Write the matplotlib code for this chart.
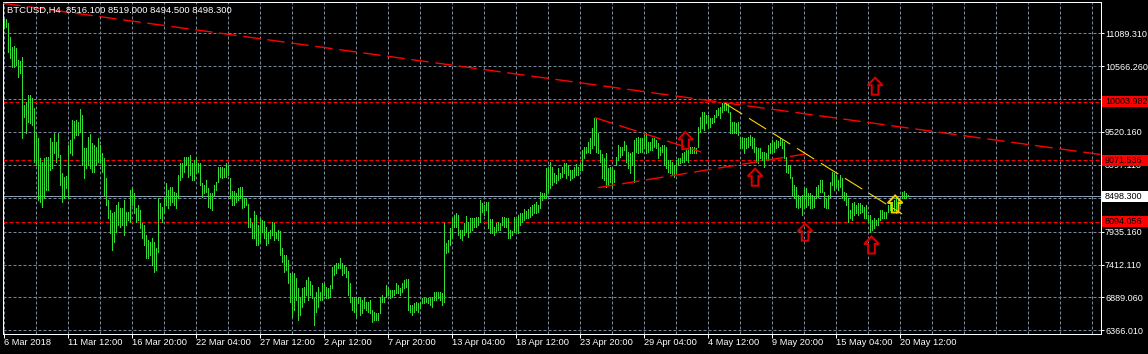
import matplotlib
matplotlib.use("Agg")
import matplotlib.pyplot as plt
import matplotlib.transforms as mtransforms
from matplotlib.patches import Polygon, Rectangle
import numpy as np

plt.rcParams['lines.scale_dashes'] = False
plt.rcParams['font.family'] = ['Liberation Sans', 'DejaVu Sans']

# ---------------- data (BTCUSD H4, bar highs / lows) ----------------
high_mar_a = [11317, 11317, 11248, 11036, 10877, 10893, 10862, 10665, 10650, 10718,
              9950, 10003, 10109, 10109, 10056, 9897, 9499, 9420, 9102, 9049,
              9102, 9128, 9128, 9420, 9367, 9499, 9367, 9499, 9155, 8863,
              8810, 8826, 9314, 9393, 9711, 9695, 9711, 9685, 9881, 9791,
              9261, 9271, 9446, 9483, 9340, 9314, 9287, 9420, 9314, 9181,
              9102, 8783, 8439, 8280, 8227, 8253, 8359, 8413, 8306, 8306,
              8439, 8253, 8253, 8598, 8625, 8545, 8306, 8359, 8280, 8068,
              8041, 7882, 7803, 7776, 7829, 7776, 7670, 8466, 8386, 8333,
              8466, 8704, 8598, 8651, 8651, 8572, 8545, 8837, 9022, 9022,
              9128, 9128, 9128, 9155, 9022, 9075, 9102, 9022, 9022, 8704,
              8677, 8757, 8625, 8545, 8545, 8677, 8731, 8969, 8969, 8969,
              8943, 9022, 8996, 8784]
low_mar_a = [11169, 11195, 10798, 10692, 10559, 10559, 10586, 10400, 10453, 9420,
             9764, 9499, 9685, 9658, 9632, 9049, 8996, 8439, 8413, 8333,
             8466, 8598, 8598, 8916, 8943, 9181, 9049, 9128, 8677, 8413,
             8466, 8625, 8466, 9181, 9155, 9420, 9473, 9473, 9526, 8996,
             8783, 8943, 8996, 8943, 8890, 8890, 8996, 9049, 9049, 8890,
             8518, 8359, 8147, 7909, 7644, 7776, 7935, 8041, 8015, 8041,
             7882, 8041, 8121, 8094, 8359, 8227, 8094, 8121, 7988, 7829,
             7723, 7511, 7511, 7564, 7405, 7299, 7326, 7617, 8147, 8094,
             8227, 8359, 8306, 8359, 8413, 8359, 8306, 8466, 8757, 8810,
             8890, 8996, 8810, 8837, 8757, 8757, 8863, 8890, 8677, 8492,
             8545, 8572, 8333, 8306, 8280, 8518, 8598, 8731, 8810, 8784,
             8810, 8810, 8837, 8466]

high_mar_b = [8582, 8582, 8545, 8635, 8651, 8651, 8476, 8465, 8370, 8147,
              8068, 8264, 8200, 8041, 8147, 8121, 8105, 8015, 7935, 7962,
              8094, 8068, 7935, 7962, 7946, 7670, 7564, 7564, 7485, 7273,
              7273, 7273, 7193, 7034, 6902, 7034, 7061, 7167, 7220, 7151,
              7087, 6875, 6981, 7061, 6981, 7114, 7114, 7061, 7034, 7087,
              7379, 7405, 7432, 7442, 7511, 7432, 7405, 7379, 7310, 7114,
              6902, 6875, 6902, 6902, 6875, 6849, 6902, 6822, 6822, 6849,
              6690, 6663, 6637, 6637, 6902, 6928, 6902, 7087, 7034, 7008,
              7008, 7008, 7114, 7087, 7034, 7114, 7167, 7183, 7183, 6769,
              6769, 6796, 6822, 6796, 6822, 6875, 6886, 6875, 6886, 6875,
              6902, 6970, 6981, 6970, 6981, 6955, 8068, 7750, 7803, 7988,
              8147, 8200, 8227]
low_mar_b = [8359, 8359, 8412, 8439, 8465, 8306, 8333, 8359, 8015, 8015,
             7829, 7829, 7723, 7723, 7776, 7935, 7829, 7723, 7750, 7829,
             7882, 7803, 7829, 7803, 7564, 7458, 7299, 7326, 7114, 6822,
             6583, 6689, 6849, 6531, 6610, 6743, 6822, 6928, 6849, 6928,
             6875, 6451, 6663, 6743, 6849, 6849, 6928, 6875, 6875, 6902,
             7034, 7246, 7273, 7352, 7352, 7246, 7273, 7220, 6928, 6822,
             6689, 6663, 6583, 6796, 6610, 6637, 6716, 6689, 6663, 6637,
             6504, 6531, 6531, 6531, 6637, 6822, 6822, 6902, 6928, 6875,
             6902, 6928, 6955, 6955, 6928, 6981, 7034, 7061, 6690, 6663,
             6610, 6663, 6690, 6663, 6716, 6796, 6796, 6822, 6796, 6769,
             6743, 6849, 6849, 6875, 6849, 6769, 6822, 7591, 7617, 7723,
             7829, 8015, 8015]

high_apr = [8200, 7962, 7962, 8068, 8184, 8094, 8147, 8147, 8147, 8174,
            8174, 8439, 8386, 8359, 8412, 8412, 8137, 8137, 8015, 8068,
            8094, 8068, 8174, 8163, 8147, 8147, 7962, 7946, 8174, 8147,
            8200, 8227, 8227, 8296, 8264, 8296, 8333, 8359, 8375, 8412,
            8359, 8571, 8545, 8545, 8943, 8943, 9049, 8969, 8863, 8837,
            8943, 8863, 8969, 9022, 9022, 8996, 8916, 8916, 8969, 9006,
            8969, 9022, 9234, 9287, 9287, 9367, 9420, 9579, 9738, 9748,
            9499, 9234, 9165, 9102, 9181, 8943, 8969, 8969, 8916, 9128,
            9314, 9287, 9287, 9377, 9314, 9208, 9181, 9208, 9393, 9420,
            9446, 9430, 9420, 9499, 9499, 9367, 9367, 9420, 9420, 9393,
            9340, 9287, 9314, 9314, 9287, 9075, 9075, 9049, 8996, 9075,
            9102, 9102, 9181]
low_apr = [7882, 7829, 7803, 7882, 7935, 7856, 7935, 7962, 8015, 8015,
           8041, 8094, 8253, 8200, 8280, 7999, 7909, 7909, 7882, 7935,
           7962, 7962, 8041, 8015, 8015, 7829, 7829, 7882, 7935, 7935,
           7909, 8041, 8094, 8121, 8147, 8147, 8174, 8200, 8227, 8227,
           8253, 8306, 8439, 8465, 8465, 8571, 8624, 8677, 8730, 8704,
           8757, 8783, 8810, 8863, 8783, 8837, 8757, 8783, 8810, 8837,
           8837, 8916, 8916, 9102, 9181, 9208, 9181, 9261, 9314, 9208,
           9181, 9049, 8783, 8757, 8651, 8677, 8730, 8651, 8730, 8996,
           9075, 9128, 9155, 9234, 9049, 8943, 8863, 8996, 8730, 9208,
           9181, 9208, 9208, 9261, 9181, 9208, 9234, 9234, 9287, 9261,
           9102, 9155, 9208, 8996, 8943, 8890, 8863, 8837, 8810, 8863,
           8996, 9022, 9049]

high_may = [9208, 9261, 9234, 9287, 9287, 9287, 9261, 9605, 9764, 9844,
            9833, 9791, 9791, 9738, 9738, 9791, 9870, 9897, 9923, 9976,
            10003, 9976, 9976, 9844, 9685, 9685, 9658, 9685, 9446, 9446,
            9420, 9420, 9446, 9473, 9446, 9420, 9287, 9261, 9261, 9208,
            9208, 9181, 9314, 9340, 9393, 9367, 9393, 9377, 9420, 9393,
            9367, 9128, 8996, 8996, 8810, 8677, 8651, 8518, 8492, 8518,
            8624, 8624, 8545, 8545, 8518, 8492, 8651, 8677, 8757, 8757,
            8571, 8465, 8518, 8730, 8890, 8863, 8837, 8757, 8837, 8783,
            8571, 8545, 8465, 8280, 8386, 8412, 8359, 8386, 8386, 8359,
            8333, 8359, 8200, 8200, 8121, 8147, 8121, 8147, 8280, 8280,
            8253, 8253, 8359, 8386, 8412, 8439, 8465, 8465, 8439, 8571,
            8582, 8545, 8519.0]
low_may = [9049, 9075, 9049, 9181, 9181, 9181, 9181, 9287, 9526, 9579,
           9552, 9658, 9579, 9605, 9658, 9685, 9764, 9791, 9738, 9844,
           9870, 9870, 9844, 9499, 9499, 9499, 9499, 9473, 9261, 9261,
           9181, 9261, 9287, 9314, 9261, 9208, 9049, 9022, 9102, 9075,
           8969, 9075, 9075, 9181, 9208, 9208, 9261, 9287, 9314, 9261,
           9102, 8890, 8863, 8783, 8518, 8465, 8333, 8306, 8333, 8200,
           8306, 8333, 8359, 8306, 8306, 8333, 8465, 8492, 8571, 8571,
           8333, 8306, 8306, 8492, 8677, 8598, 8651, 8598, 8651, 8465,
           8439, 8359, 8094, 8147, 8121, 8200, 8227, 8200, 8227, 8253,
           8147, 8147, 8094, 7935, 7962, 7988, 8041, 8041, 8121, 8147,
           8147, 8147, 8253, 8280, 8280, 8280, 8227, 8280, 8359, 8465,
           8465, 8465, 8494.5]

symbol = "BTCUSD,H4"
last_ohlc = [8516.100, 8519.000, 8494.500, 8498.300]
bid_price = 8498.300

level_prices = [10003.982, 9071.536, 8094.056]

price_ticks = [11089.310, 10566.260, 10043.210, 9520.160, 8997.110,
               8474.060, 7935.160, 7412.110, 6889.060, 6366.010]
price_tick_visible = [True, True, False, True, True, False, True, True, True, True]

time_tick_bars = [1, 33, 65, 97, 129, 161, 193, 225, 257, 289, 321, 353, 385, 417, 449]
time_tick_labels = ["6 Mar 2018", "11 Mar 12:00", "16 Mar 20:00", "22 Mar 04:00",
                    "27 Mar 12:00", "2 Apr 12:00", "7 Apr 20:00", "13 Apr 04:00",
                    "18 Apr 12:00", "23 Apr 20:00", "29 Apr 04:00", "4 May 12:00",
                    "9 May 20:00", "15 May 04:00", "20 May 12:00"]

# trend lines: (bar1, price1, bar2, price2)
red_trend_lines = [
    (0.9, 11566, 549.5, 9162),      # long descending line
    (296.8, 9747, 349.8, 9201),     # triangle upper side
    (298.3, 8634, 401.8, 9170),     # triangle lower side
]
yellow_trend_lines = [
    (361.7, 9976, 450.3, 8216),
]

arrow_bars = [342.0, 376.8, 401.8, 435.0, 436.8, 446.8]
arrow_prices = [9384, 8801, 7926, 7723, 10248, 8375]
arrow_kinds = ["red", "red", "red", "red", "red", "yellow"]

# ---------------- styling / layout ----------------
W, H, DPI = 1148, 354, 100
PX = 72.0 / DPI
GREEN = '#32dc32'
RED = '#ff0000'
GRID = '#778899'
FS = 6.5

bar_high = np.array(high_mar_a + high_mar_b + high_apr + high_may, dtype=float)
bar_low = np.array(low_mar_a + low_mar_b + low_apr + low_may, dtype=float)
bar_idx = np.arange(1, len(bar_high) + 1, dtype=float)

fig = plt.figure(figsize=(W / DPI, H / DPI), dpi=DPI, facecolor='black')
L, R, T, B = 2.5, 1100.5, 1.5, 333.5
ax = fig.add_axes([L / W, 1 - B / H, (R - L) / W, (B - T) / H], facecolor='black')

XMIN, XMAX = 0.5, 549.5
YMIN, YMAX = 6315.2, 11595.0
ax.set_xlim(XMIN, XMAX)
ax.set_ylim(YMIN, YMAX)
ax.autoscale(False)

# grid
for k in range(1, 550, 16):
    ax.axvline(k, color=GRID, lw=PX, dashes=(3 * PX, 2 * PX), zorder=1)
for p in price_ticks:
    ax.axhline(p, color=GRID, lw=PX, dashes=(3 * PX, 2 * PX), zorder=1)

# bid line
ax.axhline(bid_price, color='#8c9cb0', lw=PX, zorder=2)

# horizontal levels
for p in level_prices:
    ax.axhline(p, color=RED, lw=PX, dashes=(4 * PX, 2 * PX), zorder=2)

# bars (high-low lines), one Line2D with NaN separators
bx = np.repeat(bar_idx, 3)
by = np.column_stack([bar_low, bar_high, np.full_like(bar_low, np.nan)]).ravel()
bx[2::3] = np.nan
ax.plot(bx, by, color=GREEN, lw=PX, solid_capstyle='butt', antialiased=False,
        snap=True, zorder=3)

# trend lines
def px_slope(k1, p1, k2, p2):
    a = ax.transData.transform((k1, p1))
    b = ax.transData.transform((k2, p2))
    dx, dy = b[0] - a[0], b[1] - a[1]
    return abs(dy / dx) if dx != 0 else 0.0

for (k1, p1, k2, p2) in red_trend_lines:
    f = np.sqrt(1 + px_slope(k1, p1, k2, p2) ** 2)
    ax.plot([k1, k2], [p1, p2], color=RED, lw=1.4 * PX,
            dashes=(17.3 * f * PX, 6.7 * f * PX), zorder=4, solid_capstyle='butt')
for (k1, p1, k2, p2) in yellow_trend_lines:
    f = np.sqrt(1 + px_slope(k1, p1, k2, p2) ** 2)
    ax.plot([k1, k2], [p1, p2], color='#ffd700', lw=1.1 * PX,
            dashes=(17.3 * f * PX, 6.7 * f * PX), zorder=4, solid_capstyle='butt')

# arrows (hollow up arrows)
arrow_verts = [(0, 8.5), (7.35, 1.0), (3.35, 1.0), (3.35, -8.5),
               (-3.35, -8.5), (-3.35, 1.0), (-7.35, 1.0)]
for k, p, kind in zip(arrow_bars, arrow_prices, arrow_kinds):
    col = '#d80000' if kind == 'red' else '#f0cc00'
    tr = mtransforms.ScaledTranslation(k, p, ax.transData)
    poly = Polygon(arrow_verts, closed=True, transform=tr, fill=False,
                   edgecolor=col, lw=2 * PX, zorder=6, joinstyle='miter')
    ax.add_artist(poly)

# spines
for s in ax.spines.values():
    s.set_color('white')
    s.set_linewidth(PX)

# y ticks on right
ax.set_yticks(price_ticks)
ax.set_yticklabels([f"{p:.3f}" if v else "" for p, v in zip(price_ticks, price_tick_visible)])
ax.tick_params(axis='y', left=False, right=True, labelleft=False, labelright=True,
               direction='out', length=3.0 * PX, width=PX, color='white',
               labelcolor='white', labelsize=FS, pad=1.5 * PX)
# x ticks
ax.set_xticks(time_tick_bars)
ax.set_xticklabels(time_tick_labels)
ax.tick_params(axis='x', bottom=True, top=False, direction='out', length=3.5 * PX,
               width=PX, color='white', labelcolor='white', labelsize=FS + 0.2, pad=1.0 * PX)
for t in ax.get_xticklabels():
    t.set_horizontalalignment('left')

ident = mtransforms.IdentityTransform()

def price_label(p, face, text):
    yd = ax.transData.transform((0, p))[1]
    fig.add_artist(Rectangle((1102, yd - 5.5), 50, 11, transform=ident,
                             facecolor=face, edgecolor='none', zorder=5))
    fig.text(1105, yd, text, transform=ident, color='black', fontsize=FS,
             ha='left', va='center', zorder=6)

for p in level_prices:
    price_label(p, RED, f"{p:.3f}")
price_label(bid_price, 'white', f"{bid_price:.3f}")

# title
o, h, l, c = last_ohlc
fig.text(7, H - 10, f"{symbol}  {o:.3f} {h:.3f} {l:.3f} {c:.3f}", transform=ident,
         color='white', fontsize=6.8, ha='left', va='center', zorder=7)

fig.savefig("out.png", dpi=DPI, facecolor='black')
